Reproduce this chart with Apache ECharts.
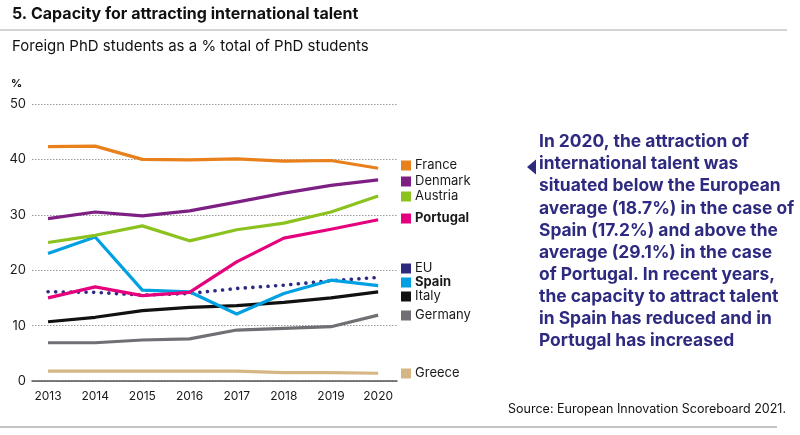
<!DOCTYPE html>
<html><head><meta charset="utf-8">
<script src="https://cdn.jsdelivr.net/npm/echarts@6/dist/echarts.min.js"></script>
<style>html,body{margin:0;padding:0;background:#fff}#c{width:800px;height:435px}</style>
</head><body><div id="c"></div>
<script>
const years = [2013, 2014, 2015, 2016, 2017, 2018, 2019, 2020];
const france   = [42.3, 42.4, 40.0, 39.9, 40.1, 39.7, 39.8, 38.4];
const denmark  = [29.3, 30.5, 29.8, 30.7, 32.3, 33.9, 35.3, 36.3];
const austria  = [25.0, 26.3, 28.0, 25.3, 27.3, 28.5, 30.5, 33.4];
const portugal = [15.0, 17.0, 15.4, 16.0, 21.5, 25.8, 27.4, 29.1];
const eu       = [16.1, 16.0, 15.5, 15.8, 16.7, 17.3, 18.1, 18.7];
const spain    = [23.0, 26.0, 16.4, 16.1, 12.1, 15.8, 18.2, 17.2];
const italy    = [10.7, 11.5, 12.7, 13.3, 13.6, 14.2, 15.0, 16.1];
const germany  = [6.9, 6.9, 7.4, 7.6, 9.2, 9.5, 9.8, 11.9];
const greece   = [1.8, 1.8, 1.8, 1.8, 1.8, 1.5, 1.5, 1.4];
const yTicks = [0, 10, 20, 30, 40, 50];

const FONT = 'Inter';
const seriesDefs = [
  {name:'France', data:france, color:'#e8801c', top:159},
  {name:'Denmark', data:denmark, color:'#7d1f83', top:175},
  {name:'Austria', data:austria, color:'#8cc21e', top:190},
  {name:'Portugal', data:portugal, color:'#e5007d', top:212, bold:true},
  {name:'EU', data:eu, color:'#2d2a80', top:262, dotted:true},
  {name:'Spain', data:spain, color:'#00a0e2', top:276, bold:true},
  {name:'Italy', data:italy, color:'#111111', top:290},
  {name:'Germany', data:germany, color:'#716f74', top:309},
  {name:'Greece', data:greece, color:'#d6b684', top:367}
];
const order = ['Greece','Germany','Italy','EU','Spain','Portugal','Austria','Denmark','France'];
const series = order.map(n => {
  const d = seriesDefs.find(s => s.name === n);
  return {
    name: d.name, type:'line', symbol:'none', silent:true,
    data: years.map((y,i) => [y, d.data[i]]),
    itemStyle:{color:d.color},
    lineStyle: d.dotted ? {color:d.color, width:3.6, type:[0.1, 7.5], cap:'round'} : {color:d.color, width:3.2, cap:'butt', join:'round'}
  };
});
const legends = seriesDefs.map(d => ({
  show:true, selectedMode:false, left:401, top:d.top, padding:0, orient:'vertical',
  icon:'rect', itemWidth:10, itemHeight:10,
  data:[{name:d.name, itemStyle:{color:d.color, borderWidth:0}, lineStyle:{width:0}, textStyle:{fontWeight: d.bold ? 'bold':'normal'}}],
  textStyle:{fontFamily:FONT, fontSize:13, color:'#1a1a1a', padding:[0,0,0,-1]}
}));

const para = 'In 2020, the attraction of\ninternational talent was\nsituated below the European\naverage (18.7%) in the case of\nSpain (17.2%) and above the\naverage (29.1%) in the case\nof Portugal. In recent years,\nthe capacity to attract talent\nin Spain has reduced and in\nPortugal has increased';

const chart = echarts.init(document.getElementById('c'), null, {renderer:'canvas'});
chart.setOption({
  animation:false,
  backgroundColor:'#fff',
  grid:{left:32, right:403, top:104, bottom:54},
  xAxis:{type:'value', min:2012.66, max:2020.4,
    axisLine:{show:true, lineStyle:{color:'#555', width:1.5}},
    axisTick:{show:false}, splitLine:{show:false},
    axisLabel:{customValues:years, formatter:v=>String(v), margin:9, fontFamily:FONT, fontSize:12, color:'#1a1a1a'}
  },
  yAxis:{type:'value', min:0, max:50, interval:10,
    axisLine:{show:false}, axisTick:{show:false},
    splitLine:{show:true, lineStyle:{color:'#9a9a9a', width:1, type:[1.5,1.5]}},
    axisLabel:{margin:6, fontFamily:FONT, fontSize:13, color:'#1a1a1a', customValues:yTicks}
  },
  legend: legends,
  series: series,
  graphic:[
    {type:'text', left:12, top:6, style:{text:'5. Capacity for attracting international talent', font:'bold 16px '+FONT, fill:'#111'}},
    {type:'line', shape:{x1:0, y1:30, x2:787, y2:30}, style:{stroke:'#c4c4c4', lineWidth:1.5}},
    {type:'text', left:12, top:39, style:{text:'Foreign PhD students as a % total of PhD students', font:'15px '+FONT, fill:'#111'}},
    {type:'text', left:11, top:78, style:{text:'%', font:'bold 11px '+FONT, fill:'#111'}},
    {type:'polygon', shape:{points:[[527,167],[536,159.5],[536,174.5]]}, style:{fill:'#2d2a80'}},
    {type:'text', left:539, top:131, style:{text:para, font:'bold 17.4px '+FONT, lineHeight:22.1, fill:'#2d2a80'}},
    {type:'text', right:14, top:403, style:{text:'Source: European Innovation Scoreboard 2021.', font:'12.5px '+FONT, fill:'#111', align:'right'}},
    {type:'line', shape:{x1:0, y1:427, x2:777, y2:427}, style:{stroke:'#b0b0b0', lineWidth:1.5}}
  ]
});
</script></body></html>
